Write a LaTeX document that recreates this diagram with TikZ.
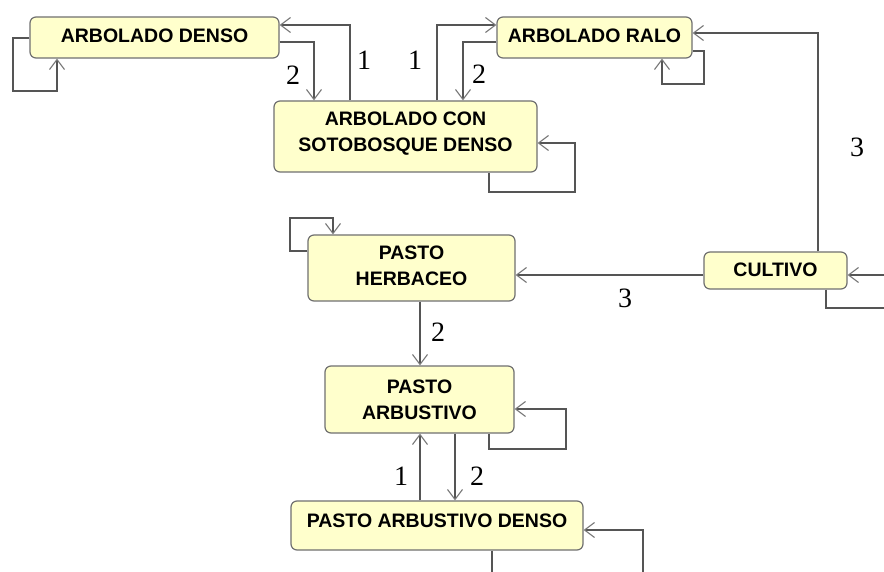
\documentclass[tikz,border=0pt]{standalone}
\usepackage{fontspec}
\usetikzlibrary{arrows.meta}
\newfontfamily\boxfont{Liberation Sans}
\newfontfamily\numfont{Liberation Serif}
\definecolor{boxfill}{HTML}{FFFFCC}
\definecolor{boxline}{HTML}{707070}
\definecolor{linec}{HTML}{555555}
\definecolor{tipc}{HTML}{777777}
\tikzset{
  state/.style={draw=boxline, fill=boxfill, line width=1.2pt, rounded corners=6pt,
    inner sep=0pt, align=center, text height=14pt,
    font=\boxfont\bfseries\fontsize{19.5}{26}\selectfont},
  twoline/.style={text height=40pt},
  arr/.style={draw=linec, line width=1.3pt,
    -{Straight Barb[length=10pt,width=15pt,line width=1.1pt,color=tipc]}},
  num/.style={inner sep=0pt, font=\numfont\fontsize{28}{28}\selectfont}
}
\begin{document}
\begin{tikzpicture}[x=1pt,y=-1pt]
\useasboundingbox (0,0) rectangle (884,572);
\clip (0,0) rectangle (884,572);
\fill[white] (0,0) rectangle (884,572);

\node[state, minimum width=249pt, minimum height=41pt, text depth=4pt] (AD) at (154.5,37.5) {ARBOLADO DENSO};
\node[state, twoline, minimum width=263pt, minimum height=71pt, text depth=9pt] (ACSD) at (405.5,136.5) {ARBOLADO CON\\SOTOBOSQUE DENSO};
\node[state, minimum width=195pt, minimum height=41pt, text depth=4pt] (AR) at (594.5,37.5) {ARBOLADO RALO};
\node[state, minimum width=143pt, minimum height=37pt, text depth=2pt] (CU) at (775.5,270.5) {CULTIVO};
\node[state, twoline, minimum width=207pt, minimum height=66pt, text depth=5pt] (PH) at (411.5,268) {PASTO\\HERBACEO};
\node[state, twoline, minimum width=189pt, minimum height=67pt, text depth=1pt] (PA) at (419.5,399.5) {PASTO\\ARBUSTIVO};
\node[state, minimum width=292pt, minimum height=49pt, text depth=11pt] (PAD) at (437,525.5) {PASTO ARBUSTIVO DENSO};

% self loops
\draw[arr] (AD.west |- 0,38) -| (13,91) -| (AD.south -| 57,0);
\draw[arr] (ACSD.south -| 489,0) |- (575,192) |- (ACSD.east |- 0,143);
\draw[arr] (AR.east |- 0,51) -| (704,84) -| (AR.south -| 662,0);
\draw[arr] (CU.south -| 826,0) |- (900,308) -- (900,275) -- (CU.east |- 0,275);
\draw[arr] (PH.west |- 0,251) -| (290,218) -| (PH.north -| 333,0);
\draw[arr] (PA.south -| 489,0) |- (566,449) |- (PA.east |- 0,409);
\draw[arr] (PAD.south -| 492,0) |- (643,600) -- (643,530) -- (PAD.east |- 0,530);

% transitions
\draw[arr] (AD.east |- 0,42) -| (ACSD.north -| 314,0);
\draw[arr] (ACSD.north -| 350,0) |- (AD.east |- 0,25);
\draw[arr] (ACSD.north -| 437,0) |- (AR.west |- 0,25);
\draw[arr] (AR.west |- 0,42) -| (ACSD.north -| 463,0);
\draw[arr] (CU.north -| 818,0) |- (AR.east |- 0,33);
\draw[arr] (CU.west |- 0,275) -- (PH.east |- 0,275);
\draw[arr] (PH.south -| 420,0) -- (PA.north -| 420,0);
\draw[arr] (PAD.north -| 420,0) -- (PA.south -| 420,0);
\draw[arr] (PA.south -| 455,0) -- (PAD.north -| 455,0);

% labels
\node[num] (l1) at (293,75) {2};
\node[num] (l2) at (364,60) {1};
\node[num] (l3) at (415,60) {1};
\node[num] (l4) at (479,74) {2};
\node[num] (l5) at (857,147) {3};
\node[num] (l6) at (625,298) {3};
\node[num] (l7) at (438,332) {2};
\node[num] (l8) at (401,476) {1};
\node[num] (l9) at (477,476) {2};
\end{tikzpicture}
\end{document}
